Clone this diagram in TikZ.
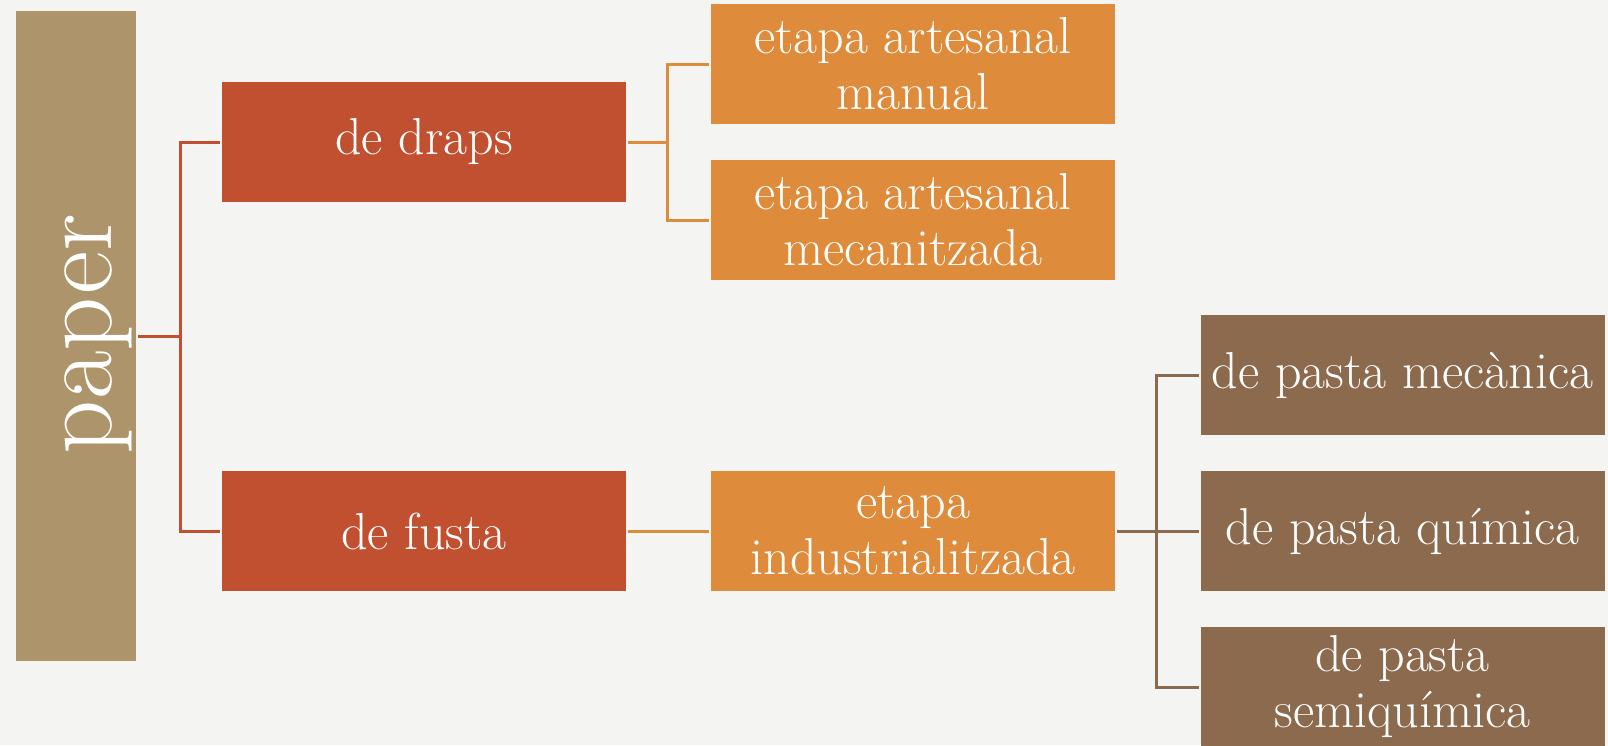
\documentclass[tikz,border=0pt]{standalone}
\usepackage{tikz}
\usetikzlibrary{positioning}

\definecolor{bgcol}{HTML}{F4F4F3}
\definecolor{tancol}{HTML}{AD946B}
\definecolor{redcol}{HTML}{C0502F}
\definecolor{orangecol}{HTML}{DE8B3B}
\definecolor{browncol}{HTML}{8C6A4E}

\tikzset{
  box/.style={rectangle, text=white, align=center, inner sep=0pt, outer sep=2pt,
    minimum width=404pt, minimum height=120pt,
    font=\fontsize{52}{56}\selectfont},
  lvlone/.style={box, fill=redcol},
  lvltwo/.style={box, fill=orangecol},
  lvlthree/.style={box, fill=browncol},
  link/.style={line width=3pt},
}

\begin{document}
\begin{tikzpicture}[x=1pt,y=-1pt]
        \fill[bgcol] (0,0) rectangle (1608,745);
        \useasboundingbox (0,0) rectangle (1608,745);
        \node[box,fill=tancol,minimum width=120pt,minimum height=650pt] at (76,336) (paper) {};
        \node[text=white,rotate=90,font=\fontsize{106}{110}\selectfont] at (98,334) (papertxt) {paper};
        \node[lvlone] at (424,142) (draps) {de draps};
        \node[lvlone] at (424,531) (fusta) {de fusta};
        \node[lvltwo] at (913,64) (manual) {etapa artesanal\\manual};
        \node[lvltwo] at (913,220) (mecan) {etapa artesanal\\mecanitzada};
        \node[lvltwo] at (913,531) (indust) {etapa\\industrialitzada};
        \node[lvlthree] at (1402.5,375) (mecanica) {de pasta mec\`anica};
        \node[lvlthree] at (1402.5,531) (quimica) {de pasta qu\'imica};
        \node[lvlthree] at (1402.5,687) (semiq) {de pasta\\semiqu\'imica};
        % connectors
        \draw[link,redcol] (paper.east) -- ++(42,0) coordinate (pj) |- (draps.west);
        \draw[link,redcol] (pj) |- (fusta.west);
        \draw[link,orangecol] (draps.east) -- ++(39,0) coordinate (dj) |- (manual.west);
        \draw[link,orangecol] (dj) |- (mecan.west);
        \draw[link,orangecol] (fusta.east) -- (indust.west);
        \draw[link,browncol] (indust.east) -- ++(39,0) coordinate (ij) |- (mecanica.west);
        \draw[link,browncol] (ij) |- (quimica.west);
        \draw[link,browncol] (ij) |- (semiq.west);
    \end{tikzpicture}
\end{document}
